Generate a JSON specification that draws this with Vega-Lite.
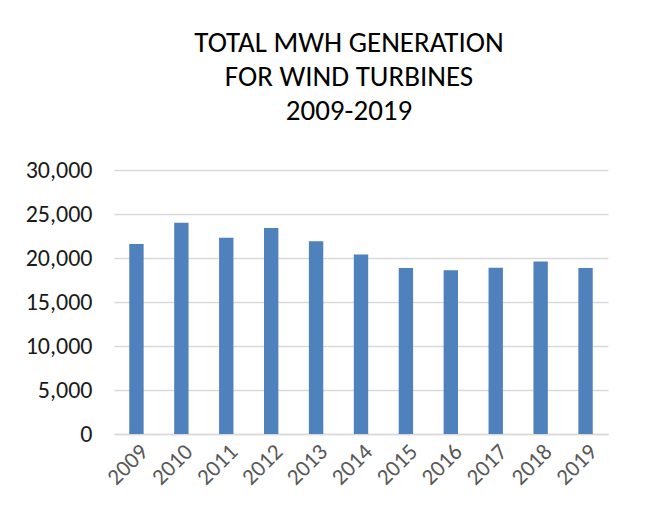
{
  "$schema": "https://vega.github.io/schema/vega-lite/v6.json",
  "autosize": "none",
  "width": 494,
  "height": 264,
  "padding": {"left": 114, "top": 170, "right": 59, "bottom": 83},
  "background": "white",
  "title": {
    "text": ["TOTAL MWH GENERATION", "FOR WIND TURBINES", "2009-2019"],
    "font": "Carlito, Calibri, Lato",
    "fontSize": 29,
    "fontWeight": "normal",
    "color": "#000000",
    "lineHeight": 34,
    "anchor": "middle",
    "dx": -12,
    "offset": 32
  },
  "data": {
    "values": [
      {"year": "2009", "mwh": 21600},
      {"year": "2010", "mwh": 24000},
      {"year": "2011", "mwh": 22300},
      {"year": "2012", "mwh": 23400},
      {"year": "2013", "mwh": 21900},
      {"year": "2014", "mwh": 20400},
      {"year": "2015", "mwh": 18850},
      {"year": "2016", "mwh": 18600},
      {"year": "2017", "mwh": 18900},
      {"year": "2018", "mwh": 19600},
      {"year": "2019", "mwh": 18850}
    ]
  },
  "mark": {"type": "bar", "color": "#4F81BD"},
  "encoding": {
    "x": {
      "field": "year",
      "type": "ordinal",
      "scale": {"paddingInner": 0.68, "paddingOuter": 0.34},
      "axis": {
        "title": null,
        "labelAngle": -45,
        "labelFont": "Carlito, Calibri, Lato",
        "labelFontSize": 23,
        "labelColor": "#595959",
        "labelPadding": 6,
        "ticks": false,
        "domainColor": "#d9d9d9",
        "domainWidth": 1.5
      }
    },
    "y": {
      "field": "mwh",
      "type": "quantitative",
      "scale": {"domain": [0, 30000]},
      "axis": {
        "title": null,
        "values": [0, 5000, 10000, 15000, 20000, 25000, 30000],
        "format": ",d",
        "labelFont": "Carlito, Calibri, Lato",
        "labelFontSize": 24,
        "labelColor": "#1a1a1a",
        "labelPadding": 22,
        "ticks": false,
        "domain": false,
        "gridColor": "#d9d9d9",
        "gridWidth": 1.5
      }
    }
  },
  "config": {"view": {"stroke": null}}
}
